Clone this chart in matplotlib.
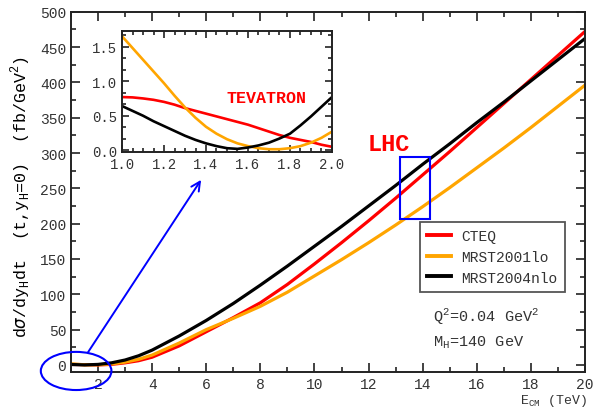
import matplotlib
matplotlib.use('Agg')
import matplotlib.pyplot as plt
from matplotlib.patches import Ellipse, Rectangle
from matplotlib.ticker import MultipleLocator

plt.rcParams.update({
    'font.family': 'Liberation Mono',
    'font.size': 10.5,
    'text.color': '#333333',
    'axes.edgecolor': '#222222',
    'axes.linewidth': 1.4,
    'xtick.color': '#222222',
    'ytick.color': '#222222',
    'xtick.labelcolor': '#333333',
    'ytick.labelcolor': '#333333',
})

# ── Datos ─────────────────────────────────────────────────────────────────────
E_CM = [1.0, 1.5, 2.0, 2.5, 3.0, 3.5, 4, 5, 6, 7, 8, 9, 10, 11, 12, 13, 14,
        15, 16, 17, 18, 19, 20]
CTEQ = [0.77, 0.45, 0.05, 0.8, 3, 6, 11, 27, 47, 67, 88, 114, 143, 173, 204,
        236, 269, 302, 336, 370, 404, 438, 472]
MRST01 = [1.65, 0.16, 0.27, 1.5, 4, 8, 14, 31, 50, 66, 83, 103, 126, 149, 173,
          198, 224, 251, 279, 307, 336, 366, 396]
MRST04 = [0.64, 0.03, 0.77, 3, 7, 13, 21, 41, 63, 87, 113, 140, 168, 196, 225,
          254, 284, 313, 343, 372, 402, 432, 462]

E_TEV = [1.00, 1.05, 1.10, 1.15, 1.20, 1.25, 1.30, 1.35, 1.40, 1.45, 1.50,
         1.55, 1.60, 1.65, 1.70, 1.75, 1.80, 1.85, 1.90, 1.95, 2.00]
CTEQ_TEV = [0.77, 0.765, 0.75, 0.73, 0.70, 0.66, 0.61, 0.57, 0.53, 0.49, 0.45,
            0.41, 0.37, 0.32, 0.27, 0.22, 0.18, 0.15, 0.12, 0.08, 0.05]
MRST01_TEV = [1.65, 1.48, 1.31, 1.14, 0.97, 0.79, 0.62, 0.47, 0.34, 0.24, 0.16,
              0.10, 0.06, 0.03, 0.015, 0.015, 0.03, 0.06, 0.11, 0.18, 0.27]
MRST04_TEV = [0.64, 0.57, 0.50, 0.42, 0.35, 0.28, 0.21, 0.15, 0.10, 0.06, 0.03,
              0.02, 0.04, 0.07, 0.11, 0.17, 0.24, 0.36, 0.49, 0.63, 0.77]

LABELS = ["CTEQ", "MRST2001lo", "MRST2004nlo"]
COLORS = ["#ff0000", "#ffa500", "#000000"]


def style_ticks(ax, size, major, minor):
    ax.tick_params(which='both', direction='in', top=True, right=True,
                   labelsize=size, width=1.2)
    ax.tick_params(which='major', length=major)
    ax.tick_params(which='minor', length=minor)


fig = plt.figure(figsize=(5.94, 4.10), dpi=100)
ax = fig.add_axes([0.1195, 0.0902, 0.8653, 0.8788])

for y, lab, col in zip([CTEQ, MRST01, MRST04], LABELS, COLORS):
    ax.plot(E_CM, y, color=col, lw=2.3, label=lab)

ax.set_xlim(1, 20)
ax.set_ylim(-10, 500)
ax.xaxis.set_major_locator(MultipleLocator(2))
ax.xaxis.set_minor_locator(MultipleLocator(1))
ax.yaxis.set_major_locator(MultipleLocator(50))
ax.yaxis.set_minor_locator(MultipleLocator(25))
style_ticks(ax, 10.5, 6.5, 3.3)

ax.set_ylabel(r"d$\sigma$/dy$_\mathregular{H}$dt  (t,y$_\mathregular{H}$=0)  (fb/GeV$^\mathregular{2}$)",
              fontsize=12)
ax.yaxis.set_label_coords(-0.074, 0.49)
ax.text(1.004, -0.078, r"E$_\mathregular{CM}$ (TeV)", transform=ax.transAxes,
        ha='right', va='center', fontsize=9.5)

leg = ax.legend(loc='upper left', bbox_to_anchor=(0.679, 0.416),
                borderaxespad=0, fancybox=False, fontsize=10.5,
                handlelength=1.65, handletextpad=0.7, labelspacing=0.45,
                borderpad=0.5, framealpha=1)
leg.get_frame().set_edgecolor('#555555')
leg.get_frame().set_linewidth(1.3)
for line in leg.get_lines():
    line.set_linewidth(2.8)

ax.text(14.37, 70, r"Q$^\mathregular{2}$=0.04 GeV$^\mathregular{2}$",
        fontsize=11, va='center')
ax.text(14.37, 33, r"M$_\mathregular{H}$=140 GeV", fontsize=11, va='center')
ax.text(11.96, 313, "LHC", color='red', fontsize=17, fontweight='bold',
        va='center')

# Recuadro LHC, elipse y flecha
ax.add_patch(Rectangle((13.17, 207), 1.11, 87, fill=False, edgecolor='blue',
                       lw=1.5, zorder=5))
ax.add_patch(Ellipse((1.19, -8.5), 2.61, 54, fill=False, edgecolor='blue',
                     lw=1.5, clip_on=False, zorder=5))
ax.annotate('', xy=(5.81, 262), xytext=(1.63, 18),
            arrowprops=dict(arrowstyle='->', color='blue', lw=1.4,
                            mutation_scale=16, shrinkA=0, shrinkB=0))

# ── Inset TEVATRON ────────────────────────────────────────────────────────────
ins = fig.add_axes([0.2054, 0.626, 0.3535, 0.295])
for y, col in zip([CTEQ_TEV, MRST01_TEV, MRST04_TEV], COLORS):
    ins.plot(E_TEV, y, color=col, lw=1.9)
ins.set_xlim(1, 2)
ins.set_ylim(-0.03, 1.72)
ins.xaxis.set_major_locator(MultipleLocator(0.2))
ins.xaxis.set_minor_locator(MultipleLocator(0.05))
ins.yaxis.set_major_locator(MultipleLocator(0.5))
ins.yaxis.set_minor_locator(MultipleLocator(0.5 / 3))
style_ticks(ins, 10, 5, 3)
ins.text(1.5, 0.77, "TEVATRON", color='red', fontsize=12, fontweight='bold',
         va='center')

fig.savefig("out.png", dpi=100)
